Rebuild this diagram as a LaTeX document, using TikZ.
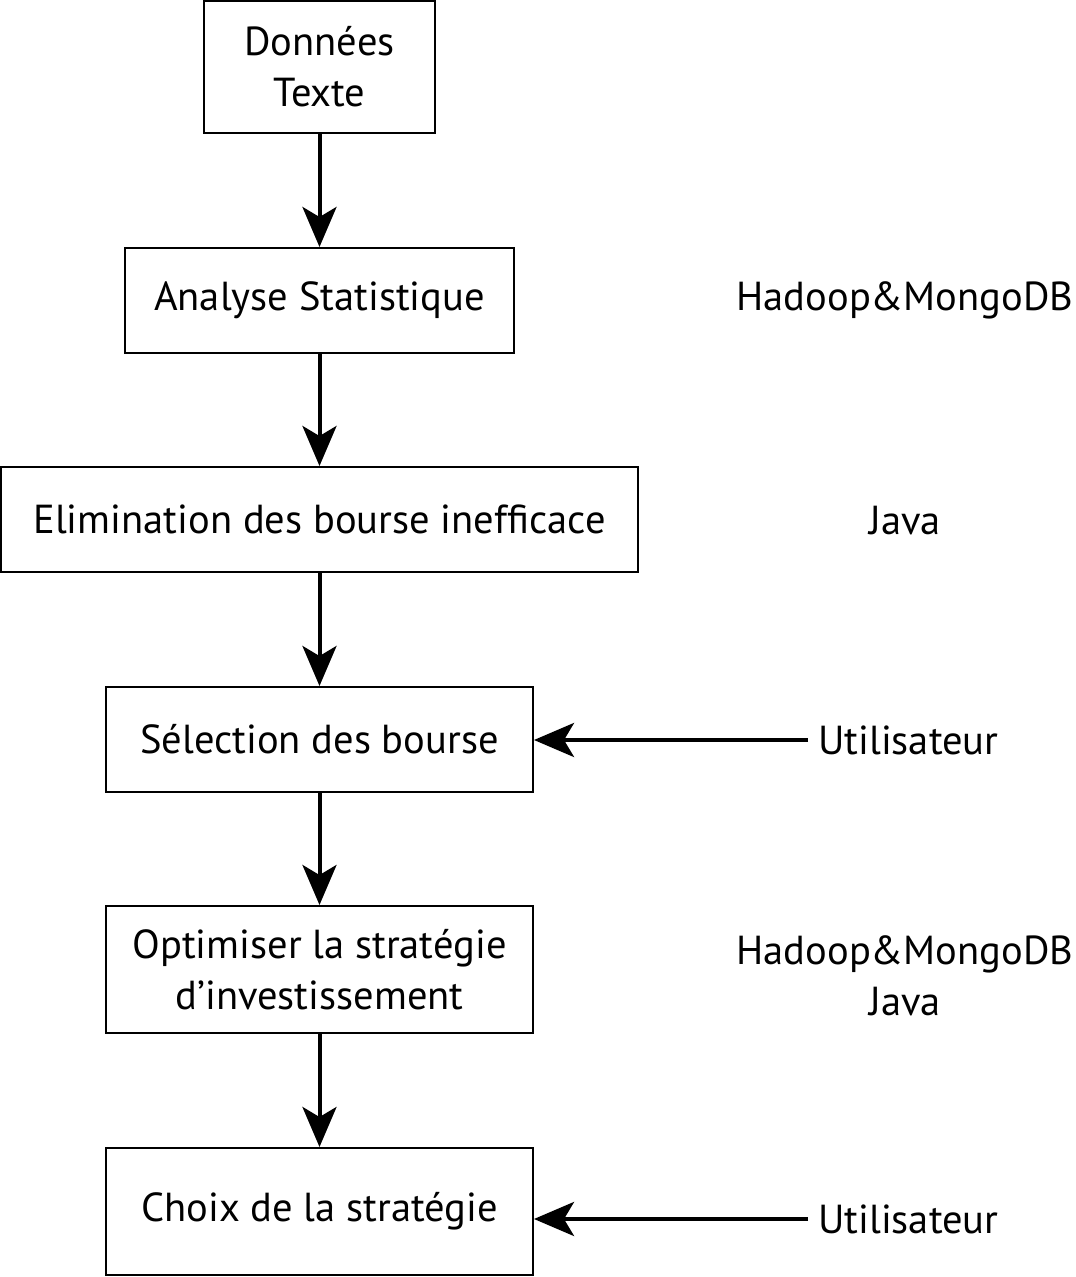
\documentclass[tikz,border=0pt]{standalone}
\usepackage{fontspec}
\setmainfont{PT Sans}
\usetikzlibrary{arrows.meta}
\tikzset{
  box/.style={draw, line width=2pt, inner sep=0pt, align=center, font=\fontsize{40.5}{51}\selectfont},
  lbl/.style={inner sep=0pt, align=center, font=\fontsize{40.5}{51}\selectfont},
  flow/.style={line width=4pt, -{Stealth[length=40pt, width=34pt, inset=10pt]}}
}
\begin{document}
\begin{tikzpicture}[x=1pt, y=-1pt]
\useasboundingbox (0,0) rectangle (1076,1277);
\node[box, minimum width=231pt, minimum height=132pt] (b1) at (319.5,67) {Données\\Texte};
\node[box, minimum width=389pt, minimum height=105pt] (b2) at (319.5,300.5) {Analyse Statistique};
\node[box, minimum width=637pt, minimum height=105pt] (b3) at (319.5,519.5) {Elimination des bourse inefficace};
\node[box, minimum width=427pt, minimum height=105pt] (b4) at (319.5,739.5) {Sélection des bourse};
\node[box, minimum width=427pt, minimum height=127pt] (b5) at (319.5,969.5) {Optimiser la stratégie\\d’investissement};
\node[box, minimum width=427pt, minimum height=127pt] (b6) at (319.5,1211.5) {Choix de la stratégie};
\node[lbl] (h1) at (905,300) {Hadoop\&MongoDB};
\node[lbl] (j1) at (905,521) {Java};
\node[lbl, anchor=west] (u1) at (818,740) {Utilisateur};
\node[lbl] (h2) at (905,976) {Hadoop\&MongoDB\\Java};
\node[lbl, anchor=west] (u2) at (818,1219) {Utilisateur};
\draw[flow] (b1.south) -- (b2.north);
\draw[flow] (b2.south) -- (b3.north);
\draw[flow] (b3.south) -- (b4.north);
\draw[flow] (b4.south) -- (b5.north);
\draw[flow] (b5.south) -- (b6.north);
\draw[flow] (u1.west) ++(-10,0) coordinate (u1s) -- (b4.east |- u1s);
\draw[flow] (u2.west) ++(-10,0) coordinate (u2s) -- (b6.east |- u2s);
\end{tikzpicture}
\end{document}
